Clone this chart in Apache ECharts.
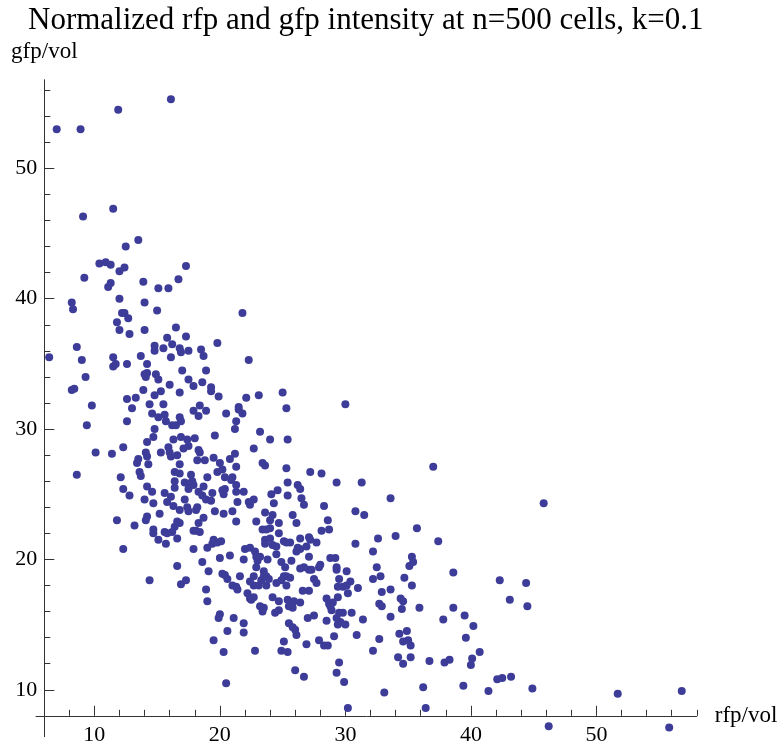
<!DOCTYPE html>
<html><head><meta charset="utf-8">
<script src="https://cdn.jsdelivr.net/npm/echarts@6/dist/echarts.min.js"></script>
<style>html,body{margin:0;padding:0;background:#fff}#c{width:782px;height:749px}</style>
</head><body><div id="c"></div>
<script>
const titleText = 'Normalized rfp and gfp intensity at n=500 cells, k=0.1';
const xName = 'rfp/vol';
const yName = 'gfp/vol';

const rfp = [
7.0,8.9,11.9,16.1,9.1,11.5,12.5,13.5,10.4,10.9,11.3,12.0,12.4,17.3,
9.2,11.3,11.1,13.9,15.1,15.9,16.7,8.2,8.3,12.0,
14.0,15.0,12.2,12.4,12.7,11.8,12.0,12.8,14.0,16.5,
17.3,15.8,16.2,14.8,14.8,15.5,16.8,16.9,17.5,18.5,
18.7,19.8,8.6,9.0,6.4,11.5,11.5,11.7,12.6,13.7,
14.2,16.1,17.0,18.9,14.0,14.2,14.1,14.9,15.1,17.5,
18.6,17.9,16.0,19.3,19.3,9.3,8.2,8.4,13.9,15.3,
14.8,16.8,19.9,12.6,13.3,13.0,9.8,14.4,15.5,18.4,
17.9,18.9,18.3,20.5,21.5,21.5,14.6,15.1,15.6,15.7,
16.8,16.9,16.2,16.5,12.6,9.4,14.8,14.7,14.2,16.3,
16.9,17.4,18.0,17.5,17.1,19.6,21.2,21.3,15.9,16.0,
16.1,15.3,16.6,18.3,18.4,18.2,18.8,19.5,20.0,20.8,
21.2,21.3,12.3,11.4,10.1,13.5,13.4,14.2,14.3,14.1,16.8,
21.8,22.3,22.1,23.1,25.0,25.3,30.0,21.8,23.2,24.0,25.4,22.7,23.4,23.6,25.3,37.0,
8.6,12.1,13.6,13.7,12.3,12.8,14.2,14.6,14.0,14.7,
15.6,16.1,15.8,16.4,16.4,16.4,16.8,17.7,17.8,17.2,
17.5,17.9,17.5,18.3,17.2,16.3,16.8,17.4,17.5,18.2,
18.1,19.0,18.7,18.6,18.9,19.4,19.3,19.8,20.2,20.4,
21.0,20.9,21.3,20.2,20.4,20.3,21.3,21.4,19.6,20.3,
21.0,21.3,18.7,18.3,18.1,17.9,18.4,11.8,13.2,14.1,
14.2,15.2,14.7,14.7,15.1,15.7,15.6,15.8,16.2,16.4,
16.6,16.8,16.6,12.3,17.9,19.0,19.5,19.4,19.8,20.1,
20.0,20.8,18.6,19.1,16.6,14.4,16.9,17.3,20.2,20.4,
20.6,21.6,21.0,21.3,21.4,18.9,19.0,20.0,19.9,21.1,20.6,19.5,20.3,
27.2,28.1,29.3,31.3,21.9,25.4,26.2,26.4,24.6,24.1,
25.4,26.5,26.7,24.3,22.7,22.4,22.3,28.3,30.8,31.5,
33.6,23.6,24.2,24.0,25.8,24.7,26.1,22.9,28.6,23.4,
23.7,24.0,24.7,28.1,28.7,35.7,34.0,32.6,37.4,30.8,
23.6,23.6,24.0,24.2,24.5,25.1,25.3,25.6,26.4,27.1,
27.2,27.7,26.2,26.4,26.1,26.9,22.0,22.4,22.8,24.5,
22.9,23.0,23.2,21.9,23.8,24.9,25.2,25.7,27.1,28.8,
29.2,28.0,27.9,29.3,29.3,30.1,32.2,35.3,35.4,35.1,
32.5,26.4,26.7,27.1,27.3,22.9,23.5,23.7,25.1,25.3,
25.6,24.9,27.5,27.7,29.5,30.4,30.1,29.8,29.4,31.0,
32.2,32.8,34.7,35.3,33.6,32.9,22.7,22.4,22.7,23.1,
23.3,23.5,23.9,23.7,24.5,25.3,22.2,22.4,22.7,24.2,
26.6,27.1,28.5,28.7,29.0,29.4,30.2,24.7,25.4,25.9,
25.5,25.8,26.4,22.5,23.2,23.5,23.4,24.4,24.7,28.8,
28.9,29.5,29.8,30.5,29.3,29.6,29.4,30.0,28.5,27.5,
27.0,25.5,25.8,26.0,26.1,21.9,21.9,31.4,32.7,32.9,
33.6,34.4,34.6,34.5,35.9,34.3,34.9,34.6,35.0,35.2,
32.7,30.9,29.1,27.9,28.3,28.6,26.9,25.1,24.9,25.4,
22.8,32.2,34.2,34.6,35.2,36.7,29.5,
45.8,38.6,42.3,44.4,43.1,44.5,38.6,37.8,39.5,40.2,39.6,40.7,40.1,40.0,37.9,38.3,
20.5,26.0,26.7,29.3,29.9,30.2,33.1,36.2,36.4,
39.4,41.4,42.1,42.5,43.2,44.9,46.2,51.7,56.8,55.8
];

const gfp = [
53.0,53.0,54.5,55.3,46.3,46.9,44.0,44.5,42.7,42.8,42.6,42.1,42.4,42.5,
41.6,41.2,40.9,41.3,40.8,40.8,41.5,39.7,39.2,40.0,
39.7,39.1,38.9,38.9,38.5,38.2,37.6,37.3,37.6,37.8,
37.1,37.0,36.5,36.4,36.0,36.2,36.2,35.9,36.0,36.1,
35.6,36.6,36.3,35.3,35.5,35.5,34.8,35.0,35.0,35.6,
35.0,35.5,34.5,34.5,34.2,34.3,34.0,34.2,33.8,33.8,
33.6,33.3,33.4,33.2,32.9,34.0,33.0,33.1,33.0,32.9,
32.6,32.8,32.5,32.3,32.4,31.6,31.8,31.9,31.9,31.8,
31.4,31.4,31.0,31.2,31.7,31.5,31.2,30.9,31.1,30.6,
30.9,30.6,30.3,30.3,30.6,30.3,30.0,29.4,29.0,29.2,
29.4,29.2,29.3,28.7,28.5,29.5,30.0,30.6,28.6,28.2,
27.9,28.2,28.0,28.4,28.2,27.6,27.6,27.8,27.4,27.7,
28.1,27.1,28.6,28.1,28.2,27.7,27.4,27.9,27.3,28.2,27.3,
38.9,35.3,32.4,32.6,32.8,31.6,31.9,31.2,29.8,29.2,29.2,28.5,27.4,27.2,27.0,27.1,
26.5,26.3,26.7,26.4,25.4,24.9,25.6,25.2,24.6,24.3,
25.1,24.8,24.4,26.0,25.5,26.7,26.6,26.5,26.0,25.9,
25.8,25.7,25.4,25.2,24.6,24.1,23.8,24.0,23.7,24.0,
23.8,26.3,25.6,24.9,24.6,25.1,24.5,26.7,26.9,26.3,
26.3,26.1,25.7,25.3,25.4,25.0,25.2,24.4,23.7,23.5,
23.7,22.9,23.2,22.8,22.2,22.2,22.1,23.0,22.6,23.0,
23.3,23.5,22.3,22.0,21.5,21.2,22.1,22.0,22.1,22.5,
22.9,22.8,21.6,20.8,20.8,20.9,21.5,21.2,21.3,21.4,
20.1,20.3,19.8,19.1,19.5,18.4,18.1,18.4,18.9,18.8,
18.5,18.7,18.0,17.9,17.7,17.7,16.8,15.8,15.5,15.5,14.5,13.8,12.9,
26.7,26.6,25.9,25.9,25.2,25.9,25.7,25.4,25.3,25.0,
24.9,24.7,24.2,24.3,24.6,24.2,24.4,24.1,23.7,23.4,
24.7,23.6,23.4,23.0,23.4,22.8,22.8,22.9,23.0,22.3,
22.3,22.4,22.0,22.2,22.3,22.4,21.8,21.6,21.4,21.2,
21.5,21.2,21.6,21.1,21.0,21.4,21.3,21.3,21.6,21.7,
21.5,21.3,20.9,20.8,20.6,21.0,20.8,20.9,20.6,20.4,
20.2,19.9,20.2,20.0,20.0,19.8,19.4,19.9,20.2,20.1,
20.1,19.6,19.4,19.4,19.2,19.1,20.6,20.2,19.8,19.5,
19.4,19.3,19.4,19.2,19.2,19.4,19.1,18.7,18.7,18.7,
18.6,18.4,18.5,18.2,18.5,18.3,18.0,17.9,17.9,17.8,
18.5,18.7,18.6,18.0,17.7,17.5,18.7,18.3,18.0,18.0,
18.4,18.7,18.5,18.0,18.2,18.0,17.4,17.0,17.1,17.1,
17.6,17.6,17.0,16.6,16.7,17.1,17.4,16.8,16.9,16.8,
16.4,16.3,16.7,16.9,16.4,16.3,16.0,15.9,16.1,16.4,
16.1,15.9,15.9,15.9,15.5,15.2,15.0,15.0,15.3,15.7,
15.5,15.1,14.8,14.6,14.2,15.1,14.4,15.4,16.6,16.4,
15.6,17.0,16.8,16.2,16.3,14.3,14.5,13.7,13.8,13.4,
13.9,14.2,14.1,13.8,13.4,13.4,13.5,13.7,13.0,12.9,
13.0,13.0,12.5,12.0,12.5,12.2,12.1,
24.3,19.0,18.4,18.2,16.9,16.4,16.3,15.4,15.7,14.9,14.0,12.9,12.4,11.9,12.1,12.3,
10.5,11.5,11.0,11.3,10.6,8.6,9.8,10.2,8.6,
10.3,9.9,10.8,10.9,11.0,10.1,7.2,9.7,9.9,7.1
];

const xMajorTicks = [10, 20, 30, 40, 50];
const xMinorTicks = [8, 12, 14, 16, 18, 22, 24, 26, 28, 32, 34, 36, 38, 42, 44, 46, 48, 52, 54, 56, 58];
const yMajorTicks = [10, 20, 30, 40, 50];
const yMinorTicks = [12, 14, 16, 18, 22, 24, 26, 28, 32, 34, 36, 38, 42, 44, 46, 48, 52, 54, 56];

const X_MIN = 5.35, X_MAX = 58, Y_MIN = 6.4, Y_MAX = 56.8;

const points = rfp.map((v, i) => [v, gfp[i]]);

const FONT = '"Liberation Serif", "Times New Roman", serif';
const AX = '#333';

const chart = echarts.init(document.getElementById('c'), null, {renderer: 'canvas'});
chart.setOption({
  animation: false,
  backgroundColor: '#fff',
  title: {
    text: titleText, left: 28, top: 5, padding: 0,
    textStyle: {fontFamily: FONT, fontSize: 31, fontWeight: 'normal', color: '#000'}
  },
  grid: {left: 36, right: 85.2, top: 79.7, bottom: 12.3, containLabel: false, outerBoundsMode: 'none'},
  xAxis: [{
    type: 'value', position: 'bottom', offset: -20.9, min: X_MIN, max: X_MAX,
    name: xName, nameLocation: 'end', nameGap: 18,
    nameTextStyle: {fontFamily: FONT, fontSize: 23, color: '#000'},
    axisLine: {show: true, onZero: false, lineStyle: {color: AX, width: 1}},
    axisTick: {show: true, inside: true, length: 10, customValues: xMajorTicks, lineStyle: {color: AX}},
    axisLabel: {show: true, customValues: xMajorTicks, margin: 8, fontFamily: FONT, fontSize: 22, color: '#000'},
    splitLine: {show: false}
  }, {
    type: 'value', position: 'bottom', offset: -20.9, min: X_MIN, max: X_MAX,
    axisLine: {show: false, onZero: false},
    axisTick: {show: true, inside: true, length: 6, customValues: xMinorTicks, lineStyle: {color: AX}},
    axisLabel: {show: false},
    splitLine: {show: false}
  }],
  yAxis: [{
    type: 'value', position: 'left', offset: -8.3, min: Y_MIN, max: Y_MAX,
    name: yName, nameLocation: 'end', nameGap: 16,
    nameTextStyle: {fontFamily: FONT, fontSize: 23, color: '#000'},
    axisLine: {show: true, onZero: false, lineStyle: {color: AX, width: 1}},
    axisTick: {show: true, inside: true, length: 10, customValues: yMajorTicks, lineStyle: {color: AX}},
    axisLabel: {show: true, customValues: yMajorTicks, margin: 7, fontFamily: FONT, fontSize: 22, color: '#000'},
    splitLine: {show: false}
  }, {
    type: 'value', position: 'left', offset: -8.3, min: Y_MIN, max: Y_MAX,
    axisLine: {show: false, onZero: false},
    axisTick: {show: true, inside: true, length: 6, customValues: yMinorTicks, lineStyle: {color: AX}},
    axisLabel: {show: false},
    splitLine: {show: false}
  }],
  series: [{
    type: 'scatter', xAxisIndex: 0, yAxisIndex: 0,
    data: points, symbol: 'circle', symbolSize: 8, clip: false,
    itemStyle: {color: '#3d3d99', opacity: 1},
    emphasis: {disabled: true}
  }]
});
</script>
</body></html>
